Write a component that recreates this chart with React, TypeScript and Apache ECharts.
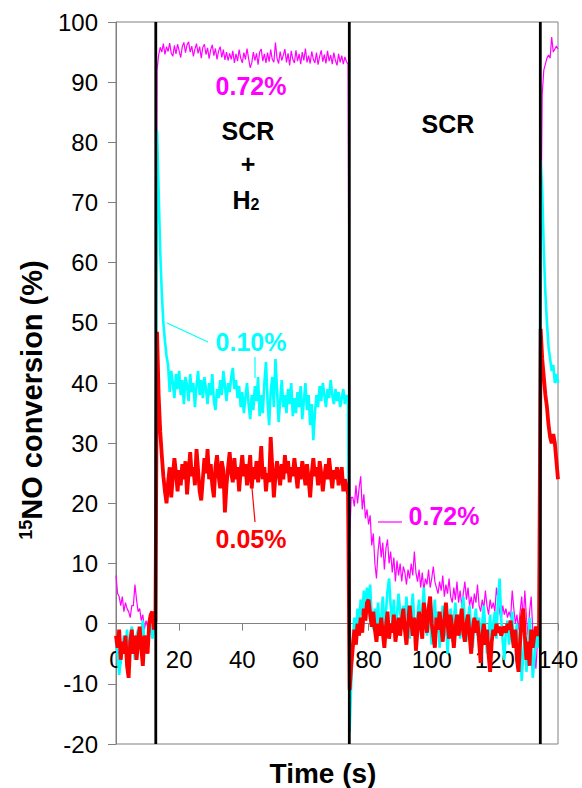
import React, { useEffect, useRef } from "react";
import * as echarts from "echarts";

// sampling interval of the recorded traces (s)
const STEP = 0.5;

// x-axis and y-axis ranges / ticks
const xTicks = [0, 20, 40, 60, 80, 100, 120, 140];
const yTicks = [-20, -10, 0, 10, 20, 30, 40, 50, 60, 70, 80, 90, 100];

// times at which the feed was switched (vertical black lines)
const switchTimes = [12.6, 73.9, 134.4];

// ---- 0.72 % (magenta) ----
const magentaPre = [8, 5, 4.5, 3, 4.5, 2, 3.5, 2.5, 2, 1, 3, 3, 6.5, 4, 2, 2.5, 0.5, 1.5, -1, 0.5, -0.5, 1, 0, 1.5, 0.5, 1];
const magentaH2 = [
  92, 94.5, 95.8, 95, 96.4, 94.6, 95.9, 95.1, 96.5, 94.8,
  94.3, 96.1, 94.7, 96.3, 95.2, 94.1, 95.9, 96.6, 94.9, 96.2,
  96.7, 95, 96, 94.3, 95.5, 96.4, 94.8, 95.9, 94, 95.8,
  96.3, 94.6, 95.7, 93.9, 95.4, 96.2, 94.4, 95.6, 93.8, 95.2,
  95.9, 94.1, 95.4, 93.7, 95, 93.6, 94.8, 93.8, 95.2, 93.2,
  94.7, 93.5, 95.4, 94, 93.2, 94.9, 93.8, 95.6, 93.9, 92.4,
  93.2, 95, 93.6, 94.8, 92.9, 95, 95.5, 93.5, 94.7, 93.2,
  94.9, 93.4, 95.4, 93.8, 93.3, 96.6, 94, 93.1, 95.1, 93.6,
  94.5, 95.5, 93.3, 94.8, 92.8, 95.2, 93.8, 93.2, 95.3, 93.5,
  94.7, 93, 95, 93.6, 95.6, 93.3, 94.4, 93.1, 95.1, 93.8,
  93.2, 94.9, 92.9, 94.3, 95.3, 93.4, 94.6, 93.1, 95.2, 93.5,
  94.5, 93, 94.9, 93.6, 92.8, 94.7, 93.3, 94.4, 93, 94.2,
  93.4, 93,
];
const magentaSCR = [
  14, 21, 21, 19.5, 23, 20, 22.5, 24.5, 19, 21.5,
  17.5, 19, 16.5, 18, 13, 15, 10, 7.5, 12, 14.5,
  11, 13.5, 9, 12.5, 14, 10, 12, 8.5, 11, 7,
  10.5, 8, 10, 7, 9.5, 8.5, 6.5, 9, 7.5, 10,
  8, 12, 8.5, 7, 9, 6, 8.5, 5.5, 7.5, 6.5,
  9, 6, 7.5, 9.5, 7, 6, 5, 7, 5.5, 8,
  4.5, 6.5, 5, 7.5, 4.5, 3.5, 6, 4, 7, 3.5,
  5.5, 3, 5, 7, 4, 6, 3, 4.5, 2.5, 5,
  3.5, 6.5, 3, 2, 4, 2.5, 5.5, 3, 1.5, 4,
  2.5, 3.5, 2, 6, 4, 2, 0.5, 3, 1.5, 2.5,
  1, 2, 1, 5.5, 2.5, 0, 1.5, -1, 2, 4.5,
  0.5, 5.5, 1, -2, 2, 4.5, -1, -4, -7.5, -3,
  -1,
];
const magentaPost = [60, 88, 92, 93, 94, 94.5, 94, 97.5, 95, 95.5, 96, 95.5];

// ---- 0.10 % (cyan) ----
const cyanPre = [-3, -5, -8.5, -6, -4, -2, -3.5, -1, -5, -2.5, -0.5, -3, -6, -2, -1, -4, -1.5, 0.5, -3, -2, -4.5, -1, 0, -2.5, -1, 0.5];
const cyanH2 = [
  82, 72, 62, 55, 50, 47, 44.5, 43, 38.5, 42,
  40, 37.5, 41.5, 39, 42, 38, 40.5, 36.5, 41, 39.5,
  37, 41.5, 38.5, 40, 36, 39.5, 42, 38, 40.5, 37.5,
  41, 39, 36.5, 40, 38, 41.5, 37, 35.5, 39, 37.5,
  40.5, 38, 42, 39.5, 37, 40, 38.5, 41, 42.5, 39,
  40.5, 37.5, 39.5, 36, 38.5, 35, 37.5, 40, 36.5, 34,
  38, 35.5, 39.5, 37, 41, 34.5, 38, 35, 40, 43.5,
  37, 33, 38.5, 41, 36, 44, 39, 33.5, 37, 40.5,
  36, 38, 35, 39, 36.5, 40, 34.5, 37.5, 35, 38.5,
  36, 39.5, 34, 37, 40, 35.5, 38, 33, 36.5, 30.5,
  35, 38, 36, 39.5, 37, 40, 38, 36, 39, 37.5,
  40.5, 38, 36.5, 39, 37, 38.5, 36, 37.5, 39, 36.5,
  38, 37,
];
const cyanSCR = [
  -18, -10, -3, 1, -2, 2.5, 0, 4, 1.5, 5.5,
  2, 6, 3, 6.5, 1, -1, 2.5, 0, 3.5, -1.5,
  1, 4.5, -0.5, 2, 5.5, 7.5, 3, 0, 4, -2,
  1.5, 5, 2, -1, 3, 0.5, 4.5, 1, -2.5, 2,
  5, 0, -3, 1.5, 4, -1, 2, 6, 1, -2,
  3, 0, -3.5, 1, 4, -1.5, 2, -4, 0, 3,
  -2, 1, -5, -1, 2.5, -3, 0.5, 3.5, -1, 1.5,
  -2.5, 2, 4.5, 0, -3, 1, 3, -1.5, -4, 0.5,
  2.5, -2, 1, -3.5, 0, 3, -1, -5, -2, 1.5,
  -3, 0, 2, -2.5, 4, 7.5, 1, -3, -6, -1,
  0.5, -3.5, -1, 2, -4, -2, 0, -7, -3, -9.5,
  -5, -2, -8, -4, 1, -3, -9, -6, -2, -4,
  -1,
];
const cyanPost = [77, 72, 62, 55, 50, 46, 44, 42, 43, 40, 41.5, 40];

// ---- 0.05 % (red) ----
const redPre = [-2, -4, -1, -6, -3, -5, -2, -7, -9, -3, -1, -5, -2, -6, -3, -0.5, -4, -7, -2, -3, -5, 0, 1.5, 2, -1, 0.5];
const redH2 = [
  48.5, 38, 32, 28, 24.5, 22, 20, 23.5, 26, 21,
  24.5, 27.5, 25, 22, 25.5, 23, 26.5, 24, 27, 21.5,
  25, 28.5, 24.5, 26, 23, 29, 25.5, 22, 20.5, 24,
  27.5, 25, 29, 24, 26.5, 23, 21, 26, 28, 24.5,
  22.5, 27, 25.5, 18.5, 23, 26, 28.5, 25, 23.5, 27.5,
  24, 26, 22, 25.5, 28, 24.5, 26.5, 23, 25, 28,
  22.5, 26, 24, 27, 23.5, 25.5, 29.5, 24, 26, 22,
  25, 23.5, 31, 26, 21, 24.5, 27, 25, 23, 26.5,
  24, 28, 25, 27, 23.5, 26, 24.5, 27.5, 25, 22.5,
  26, 24, 27, 25.5, 23, 26.5, 24, 21, 25, 27.5,
  24.5, 26, 23, 27, 25, 22, 24.5, 26.5, 24, 27.5,
  25, 22.5, 25.5, 24, 26, 23, 24.5, 26, 22, 24,
  23, 21.5,
];
const redSCR = [
  -11, -7, -4, -1, -3.5, 0, -2, 1, -1.5, 2.5,
  0.5, 3.5, 4, 1.5, -0.5, 2, -1, -3, 0, -2,
  1, -1.5, -4, -0.5, 2, -2.5, 0, -1.5, 1.5, -3,
  -1, 1, -2, 0.5, 2.5, -1, -3.5, 0, 3, 0.5,
  -2, 1, -4.5, -1, 2, 0, -2.5, 3.5, 1, -1.5,
  2.5, 4.5, 0, -2, -4, 1, -1, 2, -0.5, -3,
  0.5, 3.5, 0, -2.5, 1.5, -1, -4, -0.5, 1.5, -2,
  0, 2.5, -1.5, -3, 0, 1.5, -2, -5, -1, 1,
  -1.5, 0.5, -3, -6.5, -2, 0, -3.5, -1, -5, -8,
  -3, -1, -2, 0, -1.5, -0.5, -2, -1, -0.5, -1.5,
  0, -1, 0.5, -2, -4, -1, -6, -8, -3, 1,
  2.5, -2, -6, -3, -7, -1, -4, -2, -0.5, -2,
  -1,
];
const redPost = [49, 44, 41, 38, 36, 33, 31, 30, 31.5, 30, 27, 24];

const magentaValues = [...magentaPre, ...magentaH2, ...magentaSCR, ...magentaPost];
const cyanValues = [...cyanPre, ...cyanH2, ...cyanSCR, ...cyanPost];
const redValues = [...redPre, ...redH2, ...redSCR, ...redPost];

const toPairs = (vals: number[]) => vals.map((v, i) => [i * STEP, v]);

const FONT = '"Liberation Sans", Arial, sans-serif';

const GRID_TOP = 22;
const GRID_BOTTOM = 44;
const CHART_H = 788;

export default function App() {
  const ref = useRef<HTMLDivElement>(null);
  useEffect(() => {
    document.body.style.margin = "0";
    if (!ref.current) return;
    const chart = echarts.init(ref.current, undefined, { renderer: "svg" });
    const yMin = yTicks[0];
    const yMax = yTicks[yTicks.length - 1];
    const gridH = CHART_H - GRID_TOP - GRID_BOTTOM;
    // move the x axis (line, ticks, labels) up to y = 0
    const xOffset = -(gridH * (0 - yMin)) / (yMax - yMin);
    const boldText = (text: string, x: number, y: number, fill: string, size = 25) => ({
      type: "text",
      x,
      y,
      z: 100,
      style: {
        text,
        fill,
        font: `bold ${size}px ${FONT}`,
        align: "center",
        verticalAlign: "middle",
      },
    });
    const leader = (x1: number, y1: number, x2: number, y2: number, stroke: string) => ({
      type: "line",
      z: 100,
      shape: { x1, y1, x2, y2 },
      style: { stroke, lineWidth: 1.2 },
    });
    chart.setOption({
      animation: false,
      backgroundColor: "#fff",
      grid: {
        left: 116,
        top: GRID_TOP,
        right: 24,
        bottom: GRID_BOTTOM,
        show: true,
        borderColor: "#808080",
        borderWidth: 1,
        backgroundColor: "transparent",
      },
      xAxis: {
        type: "value",
        min: xTicks[0],
        max: xTicks[xTicks.length - 1],
        interval: 20,
        offset: xOffset,
        axisLine: { onZero: false, lineStyle: { color: "#808080", width: 1 } },
        axisTick: { show: true, inside: false, length: 7, lineStyle: { color: "#808080" } },
        axisLabel: { color: "#000", fontSize: 24, fontFamily: FONT, margin: 24 },
        splitLine: { show: false },
      },
      yAxis: {
        type: "value",
        min: yMin,
        max: yMax,
        interval: 10,
        axisLine: { show: true, onZero: false, lineStyle: { color: "#808080", width: 1 } },
        axisTick: { show: true, inside: false, length: 8, lineStyle: { color: "#808080" } },
        axisLabel: { color: "#000", fontSize: 24, fontFamily: FONT, margin: 18 },
        splitLine: { show: false },
      },
      series: [
        {
          name: "0.72%",
          type: "line",
          data: toPairs(magentaValues),
          showSymbol: false,
          symbol: "none",
          lineStyle: { color: "#FF00FF", width: 1.2 },
          z: 2,
        },
        {
          name: "0.10%",
          type: "line",
          data: toPairs(cyanValues),
          showSymbol: false,
          symbol: "none",
          lineStyle: { color: "#00FFFF", width: 2.6 },
          z: 3,
        },
        {
          name: "0.05%",
          type: "line",
          data: toPairs(redValues),
          showSymbol: false,
          symbol: "none",
          lineStyle: { color: "#FF0000", width: 3.8 },
          z: 4,
        },
        ...switchTimes.map((t) => ({
          type: "line",
          data: [
            [t, yMin],
            [t, yMax],
          ],
          showSymbol: false,
          symbol: "none",
          lineStyle: { color: "#000", width: 2.8 },
          z: 5,
        })),
      ],
      graphic: [
        boldText("0.72%", 251, 86, "#FF00FF"),
        boldText("SCR", 248, 131, "#000"),
        boldText("+", 248, 164, "#000"),
        {
          type: "text",
          x: 246,
          y: 199,
          z: 100,
          style: {
            text: "{h|H}{s|2}",
            align: "center",
            verticalAlign: "middle",
            rich: {
              h: { font: `bold 25px ${FONT}`, fill: "#000", verticalAlign: "bottom", lineHeight: 26 },
              s: { font: `bold 16px ${FONT}`, fill: "#000", verticalAlign: "bottom", lineHeight: 20 },
            },
          },
        },
        boldText("SCR", 448, 124, "#000"),
        boldText("0.10%", 251, 342, "#00FFFF"),
        leader(167, 323, 208, 342, "#00FFFF"),
        leader(255, 357, 255, 378, "#00FFFF"),
        boldText("0.05%", 251, 539, "#FF0000"),
        leader(252, 488, 255, 522, "#FF0000"),
        boldText("0.72%", 444, 516, "#FF00FF"),
        leader(378, 522, 402, 522, "#FF00FF"),
        boldText("Time (s)", 323, 773, "#000", 28),
        {
          type: "text",
          x: 32,
          y: 400,
          rotation: Math.PI / 2,
          z: 100,
          style: {
            text: "{sup|15}{m|NO conversion (%)}",
            align: "center",
            verticalAlign: "middle",
            rich: {
              sup: { font: `bold 18px ${FONT}`, fill: "#000", verticalAlign: "top", lineHeight: 30 },
              m: { font: `bold 29px ${FONT}`, fill: "#000", lineHeight: 30 },
            },
          },
        },
      ],
    });
    return () => chart.dispose();
  }, []);
  return <div ref={ref} style={{ width: 582, height: 788 }} />;
}
